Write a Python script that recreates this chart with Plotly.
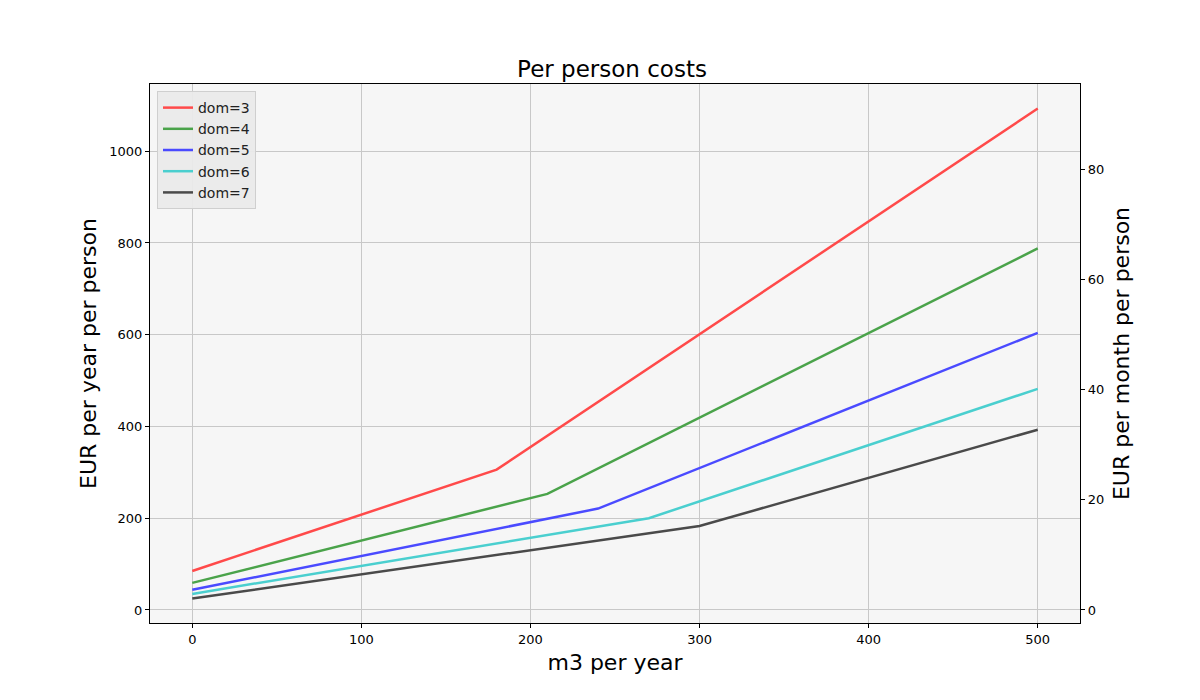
import plotly.graph_objects as go

# m3 per year (start, tariff break, end)
x_dom3 = [0, 180, 500]
y_dom3 = [85, 306, 1093]
x_dom4 = [0, 210, 500]
y_dom4 = [59, 253, 788]
x_dom5 = [0, 240, 500]
y_dom5 = [44, 221, 604]
x_dom6 = [0, 270, 500]
y_dom6 = [35, 200, 482]
x_dom7 = [0, 300, 500]
y_dom7 = [25, 183, 393]

series = [
    ("dom=3", x_dom3, y_dom3, "#ff4a4a"),
    ("dom=4", x_dom4, y_dom4, "#4aa34a"),
    ("dom=5", x_dom5, y_dom5, "#4a4aff"),
    ("dom=6", x_dom6, y_dom6, "#4acfcf"),
    ("dom=7", x_dom7, y_dom7, "#4a4a4a"),
]

FONT = "DejaVu Sans, sans-serif"
YMIN, YMAX = -28.4, 1146.5

fig = go.Figure()
for name, xs, ys, col in series:
    fig.add_trace(go.Scatter(
        x=xs, y=ys, mode="lines", name=name,
        line=dict(color=col, width=2.5),
    ))

# invisible trace to bind the monthly (right) axis
fig.add_trace(go.Scatter(
    x=[x_dom3[0]], y=[y_dom3[0] / 12], yaxis="y2", mode="lines",
    showlegend=False, hoverinfo="skip", line=dict(width=0),
))

axis_common = dict(
    showline=True, linecolor="black", linewidth=1.2,
    ticks="outside", ticklen=4, tickwidth=1, tickcolor="black",
    tickfont=dict(size=13, color="black", family=FONT),
    zeroline=False,
)

fig.update_layout(
    width=1200, height=700,
    paper_bgcolor="white", plot_bgcolor="#f6f6f6",
    font=dict(family=FONT, color="black"),
    margin=dict(l=142, r=128, t=76, b=85),
    title=dict(text="Per person costs", x=(612 - 8) / 1200, xanchor="center",
               y=1 - 61 / 700, yanchor="middle", yref="container",
               font=dict(size=23, color="black", family=FONT)),
    xaxis=dict(**axis_common, range=[-25, 525], tickvals=[0, 100, 200, 300, 400, 500],
               showgrid=True, gridcolor="#c8c8c8", gridwidth=1, mirror=True,
               title=dict(text="m3 per year", font=dict(size=22), standoff=8)),
    yaxis=dict(**axis_common, range=[YMIN, YMAX], tickvals=[0, 200, 400, 600, 800, 1000],
               showgrid=True, gridcolor="#c8c8c8", gridwidth=1,
               title=dict(text="EUR per year per person", font=dict(size=22), standoff=6)),
    yaxis2=dict(**axis_common, range=[YMIN / 12, YMAX / 12], tickvals=[0, 20, 40, 60, 80],
                overlaying="y", side="right", showgrid=False,
                title=dict(text="EUR per month per person", font=dict(size=22), standoff=10)),
    legend=dict(x=0.0075, y=0.987, xanchor="left", yanchor="top",
                bgcolor="rgba(234,234,234,0.95)", bordercolor="#cfcfcf", borderwidth=1,
                font=dict(size=14, color="#222"), tracegroupgap=0, itemwidth=30),
    showlegend=True,
)

fig.write_html("out.html")
